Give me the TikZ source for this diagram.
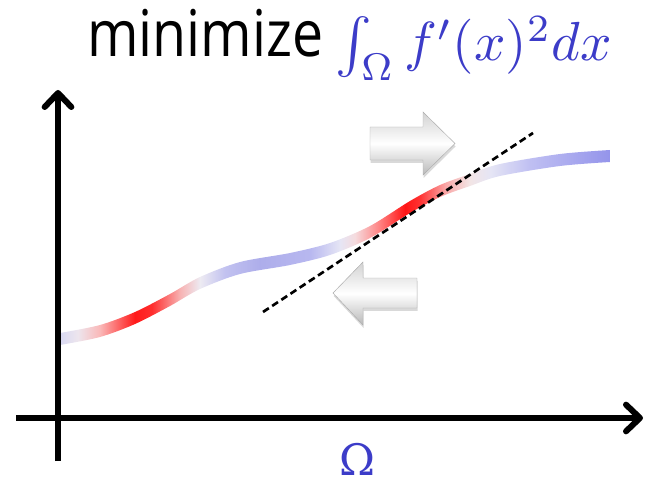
\documentclass[tikz,border=0pt]{standalone}
\usepackage{fontspec}
\setsansfont{Open Sans}
\newfontfamily\omegafont{DejaVu Serif}
\usepackage{xcolor}
\usetikzlibrary{arrows.meta, shadows}

\definecolor{mathblue}{RGB}{60,60,200}

% colour of the curve, left to right (25bp = left end, 75bp = right end)
\pgfdeclarehorizontalshading{slopeshade}{100bp}{%
  rgb(0bp)=(0.85,0.85,0.95);
  rgb(25bp)=(0.85,0.85,0.95);
  rgb(26.64bp)=(0.93,0.90,0.93);
  rgb(28.64bp)=(0.98,0.72,0.72);
  rgb(31.82bp)=(1,0.1,0.1);
  rgb(33.36bp)=(1,0.18,0.18);
  rgb(35.91bp)=(0.97,0.7,0.7);
  rgb(37.73bp)=(0.93,0.92,0.95);
  rgb(40bp)=(0.76,0.76,0.94);
  rgb(43.18bp)=(0.68,0.68,0.92);
  rgb(47.73bp)=(0.72,0.72,0.94);
  rgb(50.45bp)=(0.9,0.9,0.96);
  rgb(51.82bp)=(0.96,0.86,0.87);
  rgb(54.09bp)=(1,0.5,0.5);
  rgb(56.36bp)=(1,0.08,0.08);
  rgb(57.73bp)=(1,0.2,0.2);
  rgb(60bp)=(0.98,0.65,0.65);
  rgb(62.27bp)=(0.95,0.9,0.9);
  rgb(64.09bp)=(0.9,0.9,0.96);
  rgb(67.73bp)=(0.75,0.75,0.95);
  rgb(75bp)=(0.58,0.58,0.92);
  rgb(100bp)=(0.58,0.58,0.92)}

\begin{document}
\begin{tikzpicture}[x=0.03cm, y=-0.03cm,
    axis/.style={line width=0.18cm, -{Straight Barb[length=0.42cm, width=0.8cm, round]}},
    blockarrow/.style={top color=gray!35, bottom color=gray!55, middle color=white,
      draw=gray!65, line width=0.4pt,
      drop shadow={shadow xshift=0.5pt, shadow yshift=-2.5pt, opacity=0.3}},
    tangent/.style={line width=0.08cm, dash pattern=on 0.21cm off 0.12cm}]
    \useasboundingbox (0,0) rectangle (646,484);

    % Curve, coloured by its slope
    \begin{scope}
        \clip plot[smooth] coordinates {(60,333) (100,325) (135,312) (170,294) (200,277) (240,262) (290,253) (330,243) (370,226) (410,201) (440,185) (470,174) (500,164) (560,154) (610,150)}
          -- plot[smooth] coordinates {(610,162) (560,166) (500,176) (470,186) (440,197) (410,213) (370,238) (330,255) (290,265) (240,274) (200,289) (170,306) (135,324) (100,337) (60,345)} -- cycle;
        \shade[shading=slopeshade] (60,140) rectangle (610,355);
    \end{scope}

    % Axes
    \coordinate (ybot) at (58,461);
    \coordinate (ytop) at (58,90);
    \coordinate (xleft) at (16,418);
    \coordinate (xright) at (643,418);
    \draw[axis] (ybot) -- (ytop);
    \draw[axis] (xleft) -- (xright);

    % Shift arrows
    \path[blockarrow] (370,127) -- (423,127) -- (423,112) -- (455,143.5) -- (423,175) -- (423,160) -- (370,160) -- cycle;
    \path[blockarrow] (333,293) -- (363,262) -- (363,278) -- (417,278) -- (417,308) -- (363,308) -- (363,325) -- cycle;

    % Tangent
    \coordinate (tanstart) at (263,312);
    \coordinate (tanend) at (533,133);
    \draw[tangent] (tanstart) -- (tanend);

    % Labels
    \node[anchor=base west, inner sep=0, font=\sffamily\fontsize{55}{60}\selectfont] (title) at (87,57) {\scalebox{0.86}[1]{minimize}};
    \node[anchor=base west, inner sep=0, text=mathblue] (goal) at (335,61) {\scalebox{4.7}{$\int_\Omega f'(x)^2 dx$}};
    \node[text=mathblue, inner sep=0, font=\omegafont\fontsize{37}{40}\selectfont] (domain) at (357.5,459) {Ω};
\end{tikzpicture}
\end{document}
